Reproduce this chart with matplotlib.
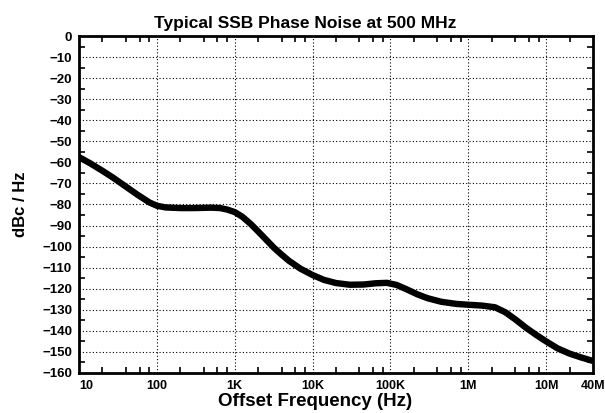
import matplotlib
matplotlib.use('Agg')
import matplotlib.pyplot as plt
from matplotlib.ticker import FixedLocator, NullFormatter

# Phase noise curve (offset Hz, dBc/Hz)
offset_hz = [10, 14, 20, 28, 40, 56, 80, 100, 130, 200, 300, 500, 650, 800, 1000,
             1250, 1600, 2000, 2500, 3160, 4000, 5000, 7000, 10000, 14000, 20000,
             30000, 45000, 65000, 90000, 120000, 160000, 220000, 300000, 450000,
             700000, 1e6, 1.5e6, 2.2e6, 3e6, 4e6, 5.5e6, 7.5e6, 1e7, 1.4e7, 2e7,
             2.8e7, 4e7]
noise_dbc = [-57.5, -60.5, -64, -67.5, -71.5, -75.3, -79, -80.6, -81.4, -81.7, -81.7,
             -81.5, -81.7, -82.4, -83.6, -85.8, -89.2, -92.8, -96.5, -100.4, -103.8,
             -106.8, -110.5, -113.5, -115.8, -117.3, -118.1, -118.0, -117.4, -117.2,
             -118.2, -120.2, -122.6, -124.5, -126.2, -127.2, -127.6, -128.0, -128.8,
             -131.2, -134.5, -138.5, -142, -145, -148.3, -150.8, -152.6, -154.3]

x_ticks = [10, 100, 1e3, 1e4, 1e5, 1e6, 1e7, 4e7]
x_labels = ['10', '100', '1K', '10K', '100K', '1M', '10M', '40M']
y_ticks = list(range(-160, 1, 10))

plt.rcParams['font.family'] = ['Liberation Sans', 'DejaVu Sans']
plt.rcParams['font.weight'] = 'bold'

fig = plt.figure(figsize=(6.05, 4.13), dpi=100)
ax = fig.add_axes([0.1306, 0.0969, 0.8496, 0.8159])

ax.plot(offset_hz, noise_dbc, color='black', linewidth=4.6,
        solid_capstyle='butt', solid_joinstyle='round')

ax.set_xscale('log')
ax.set_xlim(10, 4e7)
ax.set_ylim(-160, 0)

ax.set_xticks(x_ticks)
ax.set_xticklabels(x_labels, fontsize=9, fontweight='bold')
minor_x = [m * 10 ** e for e in range(1, 8) for m in (2, 4, 6, 8) if m * 10 ** e < 4e7]
ax.xaxis.set_minor_locator(FixedLocator(minor_x))
ax.xaxis.set_minor_formatter(NullFormatter())

ax.set_yticks(y_ticks)
ax.set_yticklabels([str(v).replace('-', '\u2212') for v in y_ticks],
                   fontsize=9.5, fontweight='bold')
ax.yaxis.set_minor_locator(FixedLocator(list(range(-155, 0, 10))))

ax.tick_params(which='both', direction='in', top=True, right=True, width=1.2)
ax.tick_params(which='major', length=0, pad=5)
ax.tick_params(which='minor', length=4)
ax.tick_params(axis='x', which='major', pad=5)

# shift first x label to the right like the reference
ax.get_xticklabels()[0].set_horizontalalignment('left')

ax.grid(True, which='major', color='black', linestyle=(0, (1, 2)), linewidth=0.8)

for s in ax.spines.values():
    s.set_linewidth(2)

ax.set_title('Typical SSB Phase Noise at 500 MHz', fontsize=12.5, fontweight='bold',
             pad=6, x=0.44)
ax.set_xlabel('Offset Frequency (Hz)', fontsize=13.5, fontweight='bold', labelpad=1)
ax.xaxis.label.set_x(0.46)
ax.set_ylabel('dBc / Hz', fontsize=12, fontweight='bold', labelpad=10)

fig.savefig('out.png', dpi=100)
